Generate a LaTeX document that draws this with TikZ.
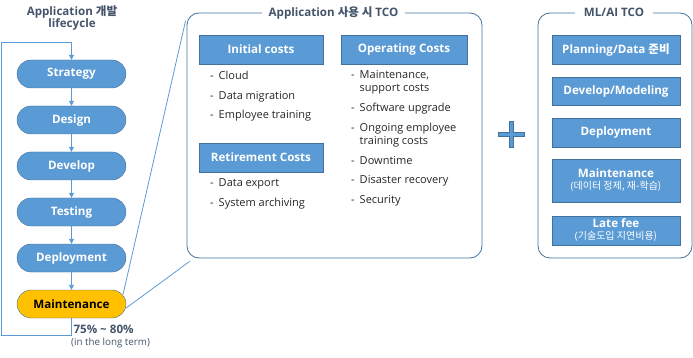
\documentclass[tikz,border=0pt]{standalone}
\usepackage{fontspec}
\setmainfont{Open Sans}
\newfontfamily\krfont{Noto Sans CJK KR}
\usepackage{tikz}
\usetikzlibrary{arrows.meta,positioning,calc}
\definecolor{tcoblue}{HTML}{5B9BD5}
\definecolor{tcoedge}{HTML}{41719C}
\definecolor{tcoslate}{HTML}{44546A}
\definecolor{tcogold}{HTML}{FFC000}
\definecolor{tcotext}{HTML}{262626}

\begin{document}
\begin{tikzpicture}[
  x=1pt, y=-1pt,
  lifestep/.style={draw=tcoedge, fill=tcoblue, text=white, rounded corners=14pt,
                   minimum width=109pt, minimum height=28pt, inner sep=1pt,
                   font=\fontsize{11.6}{13}\selectfont\bfseries},
  costhead/.style={draw=tcoedge, fill=tcoblue, text=white, inner sep=1pt,
                   minimum height=29pt, align=center,
                   font=\fontsize{11.6}{13}\selectfont\bfseries},
  tcobox/.style={draw=tcoedge, rounded corners=12pt, line width=0.8pt},
  boxtitle/.style={fill=white, text=tcoslate, inner xsep=7pt, inner ysep=1pt,
                   font=\fontsize{11.6}{13}\selectfont\bfseries},
  items/.style={text=tcotext, inner sep=0pt, anchor=north west,
                font=\fontsize{11}{13}\selectfont},
  flow/.style={-{Triangle[length=5pt,width=5pt]}, tcoblue, line width=0.9pt},
  zoomline/.style={tcoblue, line width=0.8pt}
]
\useasboundingbox (0,0) rectangle (693,358);

% --- Application lifecycle ---
\node[text=tcoslate, align=center, font=\fontsize{11.6}{13}\selectfont\bfseries]
  (lifetitle) at (72,18) {Application {\krfont 개발}\\lifecycle};

\node[lifestep] (strat) at (71.5,74)  {Strategy};
\node[lifestep] (design) at (71.5,120) {Design};
\node[lifestep] (devel) at (71.5,166) {Develop};
\node[lifestep] (test) at (71.5,212) {Testing};
\node[lifestep] (deploy) at (71.5,258) {Deployment};
\node[lifestep, fill=tcogold, text=black] (maint) at (71.5,304) {Maintenance};

\foreach \a/\b in {strat/design,design/devel,devel/test,test/deploy,deploy/maint}
  { \draw[flow] (\a.south) -- (\b.north); }

% feedback loop
\coordinate (loopbl) at (1,335);
\coordinate (looptl) at (1,42);
\draw[flow] (maint.south) |- (loopbl) -- (looptl) -| (strat.north);

\node[text=tcoslate, anchor=west, font=\fontsize{11.6}{13}\selectfont\bfseries]
  (share) at (70,329) {75\% \textasciitilde{} 80\%};
\node[text=tcoslate, anchor=west, inner sep=0pt, font=\fontsize{9.8}{11}\selectfont]
  (longterm) at ([xshift=1pt]share.west |- 0,343) {(in the long term)};

% --- Application TCO ---
\node[tcobox, minimum width=295pt, minimum height=245pt] (tcoapp) at (334.5,135.5) {};
\node[boxtitle] (tcoapptitle) at (333.5,12.5) {Application {\krfont 사용 시} TCO};

\draw[zoomline] ([xshift=-3pt,yshift=-4pt]maint.north east) -- ([xshift=-1pt,yshift=-8pt]tcoapp.north west);
\draw[zoomline] ([yshift=-4pt]maint.east) -- ([xshift=3pt,yshift=-3pt]tcoapp.south west);

\node[costhead, minimum width=124pt] (initcost) at (261,49.5) {Initial costs};
\node[costhead, minimum width=126pt] (opcost) at (404,49.5) {Operating Costs};
\node[costhead, minimum width=124pt] (retcost) at (261,157.5) {Retirement Costs};

\node[items] (inititems) at (210,70) {%
  \begin{tabular}{@{}l@{\hspace{5pt}}l@{}}
  - & Cloud\\[7pt]
  - & Data migration\\[6pt]
  - & Employee training
  \end{tabular}};
\node[items] (retitems) at (210,177) {%
  \begin{tabular}{@{}l@{\hspace{5pt}}l@{}}
  - & Data export\\[7pt]
  - & System archiving
  \end{tabular}};
\node[items] (opitems) at (351,69) {%
  \begin{tabular}{@{}l@{\hspace{5pt}}l@{}}
  - & Maintenance,\\
    & support costs\\[7pt]
  - & Software upgrade\\[7pt]
  - & Ongoing employee\\
    & training costs\\[7pt]
  - & Downtime\\[6pt]
  - & Disaster recovery\\[7pt]
  - & Security
  \end{tabular}};

% --- plus ---
\node[minimum size=27pt, inner sep=0pt] (plus) at (511.5,134.5) {};
\draw[tcoedge, line width=5pt] (plus.west) -- (plus.east) (plus.north) -- (plus.south);
\draw[tcoblue, line width=3.4pt] ([xshift=0.8pt]plus.west) -- ([xshift=-0.8pt]plus.east)
  ([yshift=-0.8pt]plus.north) -- ([yshift=0.8pt]plus.south);

% --- ML/AI TCO ---
\node[tcobox, minimum width=154pt, minimum height=245pt] (tcoml) at (615,135.5) {};
\node[boxtitle, inner xsep=9pt] (tcomltitle) at (614,12.5) {ML/AI TCO};

\node[costhead, minimum width=128pt] (mlplan) at (616,49.5) {Planning/Data {\krfont 준비}};
\node[costhead, minimum width=128pt, minimum height=28pt] (mlmodel) at (616,91) {Develop/Modeling};
\node[costhead, minimum width=128pt] (mldeploy) at (616,132.5) {Deployment};
\node[costhead, minimum width=128pt, minimum height=43pt] (mlmaint) at (616,180.5)
  {Maintenance\\[-1pt]{\mdseries\fontsize{10}{11}\selectfont(\krfont 데이터 정제, 재-학습)}};
\node[costhead, minimum width=128pt] (mllate) at (616,230.5)
  {Late fee\\[-1pt]{\mdseries\fontsize{10}{11}\selectfont(\krfont 기술도입 지연비용)}};

\end{tikzpicture}
\end{document}
